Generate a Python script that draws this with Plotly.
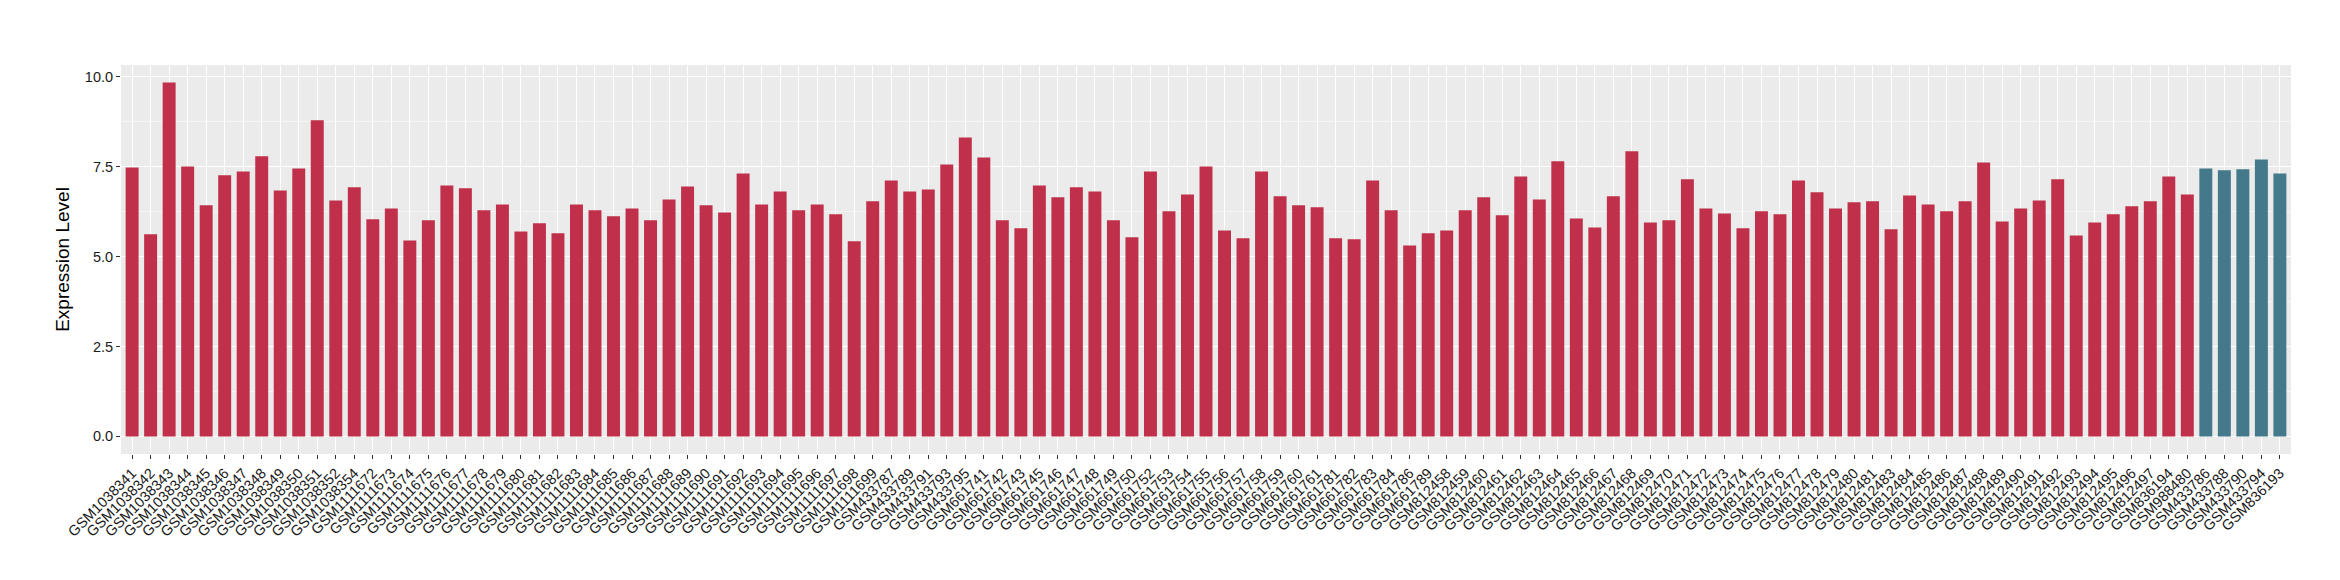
import plotly.graph_objects as go

samples = [
    "GSM1038341", "GSM1038342", "GSM1038343", "GSM1038344", "GSM1038345", "GSM1038346",
    "GSM1038347", "GSM1038348", "GSM1038349", "GSM1038350", "GSM1038351", "GSM1038352",
    "GSM1038354",
    "GSM1111672", "GSM1111673", "GSM1111674", "GSM1111675", "GSM1111676", "GSM1111677",
    "GSM1111678", "GSM1111679", "GSM1111680", "GSM1111681", "GSM1111682", "GSM1111683",
    "GSM1111684", "GSM1111685", "GSM1111686", "GSM1111687", "GSM1111688", "GSM1111689",
    "GSM1111690", "GSM1111691", "GSM1111692", "GSM1111693", "GSM1111694", "GSM1111695",
    "GSM1111696", "GSM1111697", "GSM1111698", "GSM1111699",
    "GSM433787", "GSM433789", "GSM433791", "GSM433793", "GSM433795",
    "GSM661741", "GSM661742", "GSM661743", "GSM661745", "GSM661746", "GSM661747",
    "GSM661748", "GSM661749", "GSM661750", "GSM661752", "GSM661753", "GSM661754",
    "GSM661755", "GSM661756", "GSM661757", "GSM661758", "GSM661759", "GSM661760",
    "GSM661761", "GSM661781", "GSM661782", "GSM661783", "GSM661784", "GSM661786",
    "GSM661789",
    "GSM812458", "GSM812459", "GSM812460", "GSM812461", "GSM812462", "GSM812463",
    "GSM812464", "GSM812465", "GSM812466", "GSM812467", "GSM812468", "GSM812469",
    "GSM812470", "GSM812471", "GSM812472", "GSM812473", "GSM812474", "GSM812475",
    "GSM812476", "GSM812477", "GSM812478", "GSM812479", "GSM812480", "GSM812481",
    "GSM812483", "GSM812484", "GSM812485", "GSM812486", "GSM812487", "GSM812488",
    "GSM812489", "GSM812490", "GSM812491", "GSM812492", "GSM812493", "GSM812494",
    "GSM812495", "GSM812496", "GSM812497",
    "GSM836194", "GSM988480",
    "GSM433786", "GSM433788", "GSM433790", "GSM433794", "GSM836193",
]

expression = [
    7.48, 5.62, 9.84, 7.51, 6.43, 7.26, 7.37, 7.79, 6.84, 7.45, 8.79, 6.56,
    6.93,
    6.04, 6.34, 5.45, 6.01, 6.98, 6.90, 6.29, 6.45, 5.70, 5.93, 5.65, 6.45,
    6.29, 6.12, 6.34, 6.01, 6.59, 6.95, 6.43, 6.23, 7.31, 6.45, 6.81, 6.29,
    6.45, 6.18, 5.43, 6.54,
    7.12, 6.81, 6.87, 7.56, 8.31,
    7.76, 6.01, 5.79, 6.98, 6.65, 6.93, 6.81, 6.01, 5.54, 7.37, 6.26, 6.73,
    7.51, 5.73, 5.51, 7.37, 6.68, 6.43, 6.37, 5.51, 5.48, 7.12, 6.29, 5.31,
    5.65,
    5.73, 6.29, 6.65, 6.15, 7.23, 6.59, 7.65, 6.06, 5.81, 6.68, 7.93, 5.95,
    6.01, 7.15, 6.34, 6.20, 5.79, 6.26, 6.18, 7.12, 6.79, 6.34, 6.51, 6.54,
    5.76, 6.70, 6.45, 6.26, 6.54, 7.62, 5.98, 6.34, 6.56, 7.15, 5.59, 5.95,
    6.18, 6.40, 6.54,
    7.23, 6.73,
    7.45, 7.40, 7.43, 7.70, 7.31,
]

group = ["A"] * 112 + ["B"] * 5

group_colors = {"A": "#C1304A", "B": "#43798A"}
bar_colors = [group_colors[g] for g in group]

fig = go.Figure(
    go.Bar(
        x=samples,
        y=expression,
        marker=dict(color=bar_colors, line=dict(width=0)),
        width=0.7,
        showlegend=False,
    )
)

fig.update_layout(
    width=2340,
    height=580,
    margin=dict(l=113, r=57, t=57, b=134),
    paper_bgcolor="white",
    plot_bgcolor="#EBEBEB",
    font=dict(family="Liberation Sans, Arial, sans-serif", color="#1a1a1a"),
    bargap=0.3,
)

fig.update_xaxes(
    type="category",
    range=[-0.6, len(samples) - 0.4],
    tickangle=-45,
    tickfont=dict(size=14.5, color="#1a1a1a"),
    ticks="outside",
    ticklen=4,
    tickwidth=1,
    tickcolor="#333333",
    showgrid=True,
    gridcolor="white",
    gridwidth=1.2,
    showline=False,
    zeroline=False,
)

fig.update_yaxes(
    range=[-0.49, 10.33],
    tickvals=[0, 2.5, 5, 7.5, 10],
    ticktext=["0.0", "2.5", "5.0", "7.5", "10.0"],
    tickfont=dict(size=14.5, color="#1a1a1a"),
    ticks="outside",
    ticklen=4,
    tickwidth=1,
    tickcolor="#333333",
    showgrid=True,
    gridcolor="white",
    gridwidth=1.2,
    minor=dict(tickvals=[1.25, 3.75, 6.25, 8.75], showgrid=True, gridcolor="#F5F5F5", gridwidth=0.6, ticks=""),
    zeroline=False,
    showline=False,
    title=dict(text="Expression Level", font=dict(size=19, color="black"), standoff=10),
)

fig.write_html("out.html")
